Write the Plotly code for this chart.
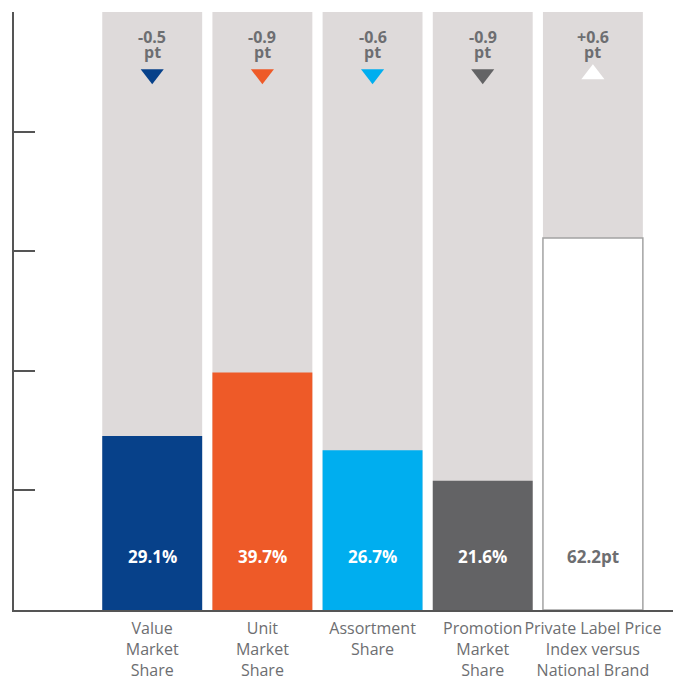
import plotly.graph_objects as go

categories = ["Value<br>Market<br>Share", "Unit<br>Market<br>Share", "Assortment<br>Share",
              "Promotion<br>Market<br>Share", "Private Label Price<br>Index versus<br>National Brand"]
values = [29.1, 39.7, 26.7, 21.6, 62.2]
value_labels = ["29.1%", "39.7%", "26.7%", "21.6%", "62.2pt"]
changes = ["-0.5", "-0.9", "-0.6", "-0.9", "+0.6"]
bar_colors = ["#07418A", "#EE5A28", "#00AEEF", "#636365", "#FFFFFF"]
label_colors = ["white", "white", "white", "white", "#6D6E71"]
full_scale = [100] * 5

xs = list(range(len(categories)))
GRAY_TXT = "#6D6E71"
FONT = "Open Sans"

fig = go.Figure()

# background gray column
fig.add_bar(x=xs, y=full_scale, width=0.907, marker_color="#DEDADA",
            marker_line_width=0, hoverinfo="skip", showlegend=False)

fig.add_bar(
    x=xs, y=values, width=0.907,
    marker=dict(color=bar_colors,
                line=dict(color=["rgba(0,0,0,0)"] * 4 + ["#A3A3A3"], width=1.5)),
    text=value_labels, textposition="none", showlegend=False,
)

for i, lab in enumerate(value_labels):
    fig.add_annotation(x=xs[i], y=8.9, text="<b>" + lab + "</b>", showarrow=False,
                       font=dict(size=17, color=label_colors[i], family=FONT))
    fig.add_annotation(x=xs[i], y=95.9, text="<b>" + changes[i] + "</b>",
                       showarrow=False, font=dict(size=16, color=GRAY_TXT, family=FONT))
    fig.add_annotation(x=xs[i], y=93.3, text="<b>pt</b>",
                       showarrow=False, font=dict(size=16, color=GRAY_TXT, family=FONT))

# change arrows
marker_symbols = ["triangle-up" if c.startswith("+") else "triangle-down" for c in changes]
fig.add_scatter(x=xs, y=[89.6] * 5, mode="markers",
                marker=dict(symbol=marker_symbols, size=20, color=bar_colors,
                            line=dict(width=0)),
                showlegend=False, hoverinfo="skip")

# page body has an 8px margin, so the figure is shifted by 8px
fig.update_layout(
    width=691, height=674,
    margin=dict(l=6, r=26, t=4, b=72),
    barmode="overlay",
    plot_bgcolor="white", paper_bgcolor="white",
    font=dict(family=FONT, color=GRAY_TXT),
    xaxis=dict(range=[-1.2545, 4.727], tickvals=xs, ticktext=categories, automargin=False,
               tickangle=0, ticklabelstandoff=3,
               showgrid=False, zeroline=False, showline=True, linecolor="#555555",
               linewidth=1.5, ticks="", tickfont=dict(size=16, color=GRAY_TXT)),
    yaxis=dict(range=[0, 100], tickvals=[0, 20, 40, 60, 80, 100], showticklabels=False,
               automargin=False,
               showgrid=False, zeroline=False, showline=True, linecolor="#555555",
               linewidth=1.5, ticks="inside", ticklen=21, tickcolor="#555555", tickwidth=1.5),
)

fig.write_html("out.html")
